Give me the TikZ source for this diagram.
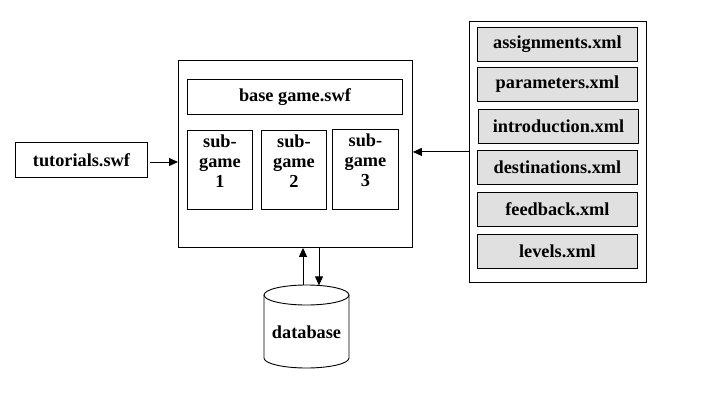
\documentclass[tikz,border=0pt]{standalone}
\usepackage{fontspec}
\setmainfont{Liberation Serif}
\usetikzlibrary{arrows.meta}
\definecolor{xmlgray}{RGB}{224,224,224}
\begin{document}
\begin{tikzpicture}[x=1pt,y=-1pt,
  every node/.style={font=\bfseries\fontsize{18.3}{20}\selectfont, inner sep=0pt},
  box/.style={draw=black, line width=0.9pt, anchor=north west},
  xmlbox/.style={box, fill=xmlgray, minimum width=160pt, minimum height=34pt},
  subbox/.style={box, minimum width=65pt, minimum height=79pt},
  subtxt/.style={anchor=north, align=center, yshift=-4.5pt},
  arr/.style={line width=0.9pt, -{Triangle[length=9pt,width=8pt]}}]
\useasboundingbox (0,0) rectangle (704,401);
% main box
\node[box, minimum width=234pt, minimum height=187pt] (main) at (178,60) {};
\node[box, minimum width=215pt, minimum height=35pt] (base) at (187,79) {base game.swf};
\node[subbox] (s1) at (187,130) {};
\node[subbox] (s2) at (261,130) {};
\node[subbox, minimum width=66pt, minimum height=80pt] (s3) at (332,129) {};
\node[subtxt] (s1t) at (s1.north) {sub-\\game\\1};
\node[subtxt] (s2t) at (s2.north) {sub-\\game\\2};
\node[subtxt] (s3t) at (s3.north) {sub-\\game\\3};
% tutorials
\node[box, minimum width=132pt, minimum height=35pt] (tut) at (15,142) {tutorials.swf};
\coordinate (tutout) at (150,162);
\draw[arr] (tutout) -- (tutout -| main.west);
% xml files
\node[box, minimum width=177pt, minimum height=261pt] (xml) at (469,21) {};
\node[xmlbox] (x1) at (477,27) {assignments.xml};
\node[xmlbox] (x2) at (477,67) {parameters.xml};
\node[xmlbox] (x3) at (478,109) {introduction.xml};
\node[xmlbox] (x4) at (477,150) {destinations.xml};
\node[xmlbox] (x5) at (477,192) {feedback.xml};
\node[xmlbox] (x6) at (477,234) {levels.xml};
\draw[arr] (xml.west) -- (xml.west -| main.east);
% database
\draw[line width=0.9pt] (264,295) -- (264,358)
  arc[start angle=180, end angle=0, x radius=42.5, y radius=10] -- (349,295);
\draw[line width=0.9pt] (306.5,295) ellipse[x radius=42.5, y radius=10];
\node (db) at (306.5,332) {database};
\coordinate (dbup) at (303,285);
\coordinate (dbdn) at (319,285.4);
\draw[arr] (dbup) -- (dbup |- main.south);
\draw[arr] (dbdn |- main.south) -- (dbdn);
\end{tikzpicture}
\end{document}
